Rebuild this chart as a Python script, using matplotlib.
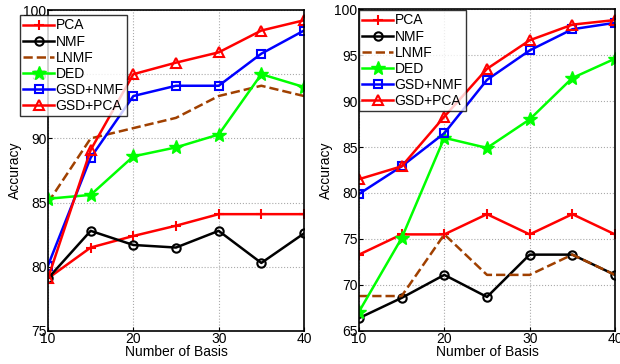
import numpy as np
import matplotlib
matplotlib.use('Agg')
import matplotlib.pyplot as plt

plt.rcParams['font.family'] = ['Liberation Sans', 'DejaVu Sans']

# number of basis
basis = [10, 15, 20, 25, 30, 35, 40]

# left panel
pca_l    = [79.1, 81.5, 82.4, 83.2, 84.1, 84.1, 84.1]
nmf_l    = [79.1, 82.8, 81.7, 81.5, 82.8, 80.3, 82.6]
lnmf_l   = [85.0, 90.0, 90.8, 91.6, 93.3, 94.1, 93.3]
ded_l    = [85.3, 85.6, 88.6, 89.3, 90.3, 95.0, 94.0]
gsdnmf_l = [80.1, 88.5, 93.3, 94.1, 94.1, 96.6, 98.4]
gsdpca_l = [79.1, 89.1, 95.0, 95.9, 96.7, 98.4, 99.2]

# right panel
pca_r    = [73.3, 75.5, 75.5, 77.7, 75.5, 77.7, 75.5]
nmf_r    = [66.4, 68.6, 71.1, 68.7, 73.3, 73.3, 71.1]
lnmf_r   = [68.8, 68.8, 75.5, 71.1, 71.1, 73.3, 71.1]
ded_r    = [67.1, 75.1, 86.0, 84.9, 88.0, 92.5, 94.6]
gsdnmf_r = [79.9, 82.9, 86.5, 92.3, 95.5, 97.8, 98.5]
gsdpca_r = [81.5, 82.9, 88.3, 93.5, 96.6, 98.3, 98.8]

names = ['PCA', 'NMF', 'LNMF', 'DED', 'GSD+NMF', 'GSD+PCA']
brown = '#A04000'

def draw(ax, data, ylim):
    ax.plot(basis, data[0], '-', color='red', marker='+', ms=7, mew=1.5, lw=1.8, label=names[0])
    ax.plot(basis, data[1], '-', color='black', marker='o', ms=6, mfc='none', mew=1.5, lw=1.8, label=names[1])
    ax.plot(basis, data[2], '--', color=brown, lw=1.8, label=names[2])
    ax.plot(basis, data[3], '-', color='#00FF00', marker='*', ms=10, lw=1.8, label=names[3])
    ax.plot(basis, data[4], '-', color='blue', marker='s', ms=5.5, mfc='none', mew=1.5, lw=1.8, label=names[4])
    ax.plot(basis, data[5], '-', color='red', marker='^', ms=7, mfc='none', mew=1.5, lw=1.8, label=names[5])
    ax.set_xlim(10, 40)
    ax.set_ylim(ylim)
    ax.set_xticks([10, 20, 30, 40])
    ax.set_yticks(np.arange(ylim[0], ylim[1] + 1, 5))
    ax.grid(True, linestyle=':', color='#aaaaaa', linewidth=0.8)
    ax.tick_params(direction='in', labelsize=10, length=3, pad=1)
    ax.set_xlabel('Number of Basis', fontsize=10, labelpad=-1)
    ax.set_ylabel('Accuracy', fontsize=10, labelpad=1)
    for s in ax.spines.values():
        s.set_linewidth(1.2)

fig = plt.figure(figsize=(6.2, 3.64), dpi=100)
ax1 = fig.add_axes([48/620, 33/364, 256/620, 321/364])
ax2 = fig.add_axes([359/620, 33/364, 256/620, 322/364])

draw(ax1, [pca_l, nmf_l, lnmf_l, ded_l, gsdnmf_l, gsdpca_l], (75, 100))
draw(ax2, [pca_r, nmf_r, lnmf_r, ded_r, gsdnmf_r, gsdpca_r], (65, 100))

leg_kw = dict(loc='upper left', fontsize=10, frameon=True, fancybox=False,
              edgecolor='black', borderpad=0.25, labelspacing=0.15,
              handlelength=2.2, handletextpad=0.1, borderaxespad=0)
l1 = ax1.legend(bbox_to_anchor=(20/620, 1 - 15/364), bbox_transform=fig.transFigure, **leg_kw)
l2 = ax2.legend(bbox_to_anchor=(359/620, 1 - 10/364), bbox_transform=fig.transFigure, **leg_kw)
for l in (l1, l2):
    l.get_frame().set_linewidth(1.0)

fig.savefig('out.png', dpi=100)
